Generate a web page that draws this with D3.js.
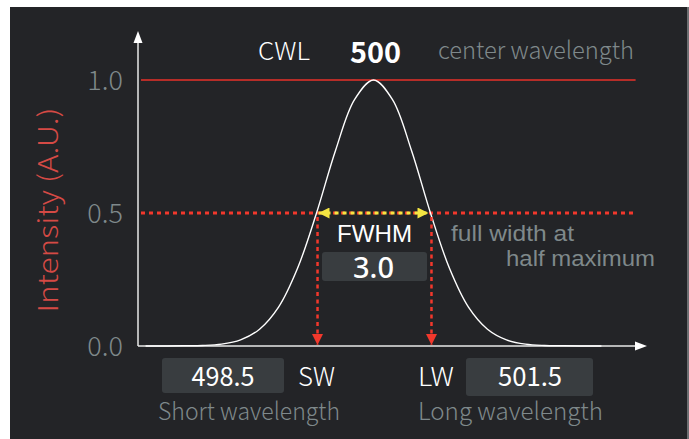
<!DOCTYPE html>
<html>
<head>
<meta charset="utf-8">
<script src="https://cdn.jsdelivr.net/npm/d3@7"></script>
<style>
  html, body { margin: 0; padding: 0; background: #ffffff; }
  svg { display: block; }
  text { font-family: "Noto Sans CJK KR", "Noto Sans", sans-serif; }
</style>
</head>
<body>
<svg id="chart"></svg>
<script>
// spectrum (wavelength in nm, intensity in A.U.)
var wavelengths = [494, 494.5, 495, 495.5, 496, 496.5, 497, 497.5, 498, 498.5, 499, 499.5, 500,
                   500.5, 501, 501.5, 502, 502.5, 503, 503.5, 504, 504.5, 505, 505.5, 506];
var intensities = [0, 0, 0.001, 0.002, 0.007, 0.023, 0.063, 0.146, 0.292, 0.5, 0.735, 0.926, 1.0,
                   0.926, 0.735, 0.5, 0.292, 0.146, 0.063, 0.023, 0.007, 0.002, 0.001, 0, 0];
var yTicks = [0, 0.5, 1.0];
var centerWl = 500;
var shortWl = 498.5;
var longWl = 501.5;
var fwhm = 3.0;
var halfMax = 0.5;
var xDomain = [493.8, 507.2];
var guideEnd = 506.9;

var W = 689, H = 439;
var svg = d3.select('#chart').attr('width', W).attr('height', H);

// dark panel
svg.append('rect').attr('x', 10).attr('y', 7).attr('width', 677).attr('height', 432).attr('fill', '#232427');
svg.append('rect').attr('x', 687).attr('y', 7).attr('width', 2).attr('height', 432).attr('fill', '#6d6f72');

var x = d3.scaleLinear().domain(xDomain).range([138, 647]);
var y = d3.scaleLinear().domain([0, 1]).range([346, 80]);

var defs = svg.append('defs');
function marker(id, color) {
    defs.append('marker')
        .attr('id', id)
        .attr('viewBox', '0 0 10 10')
        .attr('refX', 10).attr('refY', 5)
        .attr('markerUnits', 'userSpaceOnUse')
        .attr('markerWidth', 12).attr('markerHeight', 11)
        .attr('orient', 'auto-start-reverse')
        .append('path').attr('d', 'M0,0 L10,5 L0,10 Z').attr('fill', color);
}
marker('arrRed', '#f2382c');
marker('arrYel', '#f4e542');

// axes lines + arrows
svg.append('line').attr('x1', x(xDomain[0])).attr('x2', x(xDomain[1]) - 10)
    .attr('y1', y(0)).attr('y2', y(0)).attr('stroke', '#e8e8e8').attr('stroke-width', 1.5);
svg.append('path')
    .attr('d', 'M' + (x(xDomain[1]) - 12) + ',' + (y(0) - 4.5) + ' L' + x(xDomain[1]) + ',' + y(0) + ' L' + (x(xDomain[1]) - 12) + ',' + (y(0) + 4.5) + 'Z')
    .attr('fill', '#ffffff');
svg.append('line').attr('x1', x(xDomain[0])).attr('x2', x(xDomain[0]))
    .attr('y1', y(0)).attr('y2', 42).attr('stroke', '#e8e8e8').attr('stroke-width', 1.5);
svg.append('path')
    .attr('d', 'M' + (x(xDomain[0]) - 4.5) + ',43 L' + x(xDomain[0]) + ',31 L' + (x(xDomain[0]) + 4.5) + ',43Z')
    .attr('fill', '#ffffff');

// y tick labels
var yAxis = svg.append('g')
    .attr('transform', 'translate(' + x(xDomain[0]) + ',0)')
    .call(d3.axisLeft(y).tickValues(yTicks).tickSize(0).tickPadding(15).tickFormat(d3.format('.1f')));
yAxis.select('.domain').remove();
yAxis.selectAll('text')
    .attr('font-family', '"Noto Sans CJK KR", sans-serif')
    .attr('font-weight', 300)
    .attr('font-size', 27)
    .attr('fill', '#7f898b')
    .attr('dy', '0.35em');

// y axis title
svg.append('text')
    .attr('transform', 'translate(58,210) rotate(-90)')
    .attr('text-anchor', 'middle')
    .attr('font-size', 27).attr('font-weight', 300)
    .attr('fill', '#d54a45')
    .attr('textLength', 205).attr('lengthAdjust', 'spacingAndGlyphs')
    .text('Intensity (A.U.)');

// max line
svg.append('line').attr('x1', x(xDomain[0]) + 3).attr('x2', x(guideEnd))
    .attr('y1', y(1)).attr('y2', y(1)).attr('stroke', '#e8302a').attr('stroke-width', 1.5);

// half max dotted line
svg.append('line').attr('x1', x(xDomain[0]) + 3).attr('x2', x(guideEnd))
    .attr('y1', y(halfMax)).attr('y2', y(halfMax))
    .attr('stroke', '#f2382c').attr('stroke-width', 3).attr('stroke-dasharray', '4,4');

// spectrum curve
var pts = wavelengths.map(function (d, i) { return [d, intensities[i]]; });
var line = d3.line()
    .x(function (d) { return x(d[0]); })
    .y(function (d) { return y(d[1]); })
    .curve(d3.curveCatmullRom);
svg.append('path').datum(pts).attr('d', line)
    .attr('fill', 'none').attr('stroke', '#ffffff').attr('stroke-width', 1.4);

// fwhm yellow arrow
svg.append('line').attr('x1', x(shortWl) + 2).attr('x2', x(longWl) - 2)
    .attr('y1', y(halfMax)).attr('y2', y(halfMax))
    .attr('stroke', '#f4e542').attr('stroke-width', 3).attr('stroke-dasharray', '4,4')
    .attr('marker-start', 'url(#arrYel)').attr('marker-end', 'url(#arrYel)');

// vertical drops
[shortWl, longWl].forEach(function (wl) {
    svg.append('line').attr('x1', x(wl) + 1).attr('x2', x(wl) + 1)
        .attr('y1', y(halfMax) + 4).attr('y2', y(0) - 1)
        .attr('stroke', '#f2382c').attr('stroke-width', 2.5).attr('stroke-dasharray', '4,3.5')
        .attr('marker-end', 'url(#arrRed)');
});

// labels
function label(txt, xp, yp, size, color, weight, len, anchor, family) {
    var t = svg.append('text').attr('x', xp).attr('y', yp)
        .attr('font-size', size).attr('fill', color).attr('font-weight', weight || 300)
        .attr('text-anchor', anchor || 'start').text(txt);
    if (len) t.attr('textLength', len).attr('lengthAdjust', 'spacingAndGlyphs');
    if (family) t.style('font-family', family);
    return t;
}
function box(x0, y0, w, h) {
    svg.append('rect').attr('x', x0).attr('y', y0).attr('width', w).attr('height', h)
        .attr('rx', 3).attr('fill', '#393d40');
}

var tight = '"Liberation Sans", Arial, sans-serif';

label('CWL', 258, 60, 24, '#ffffff', 300, 52);
label(d3.format('d')(centerWl), 350, 63, 29, '#ffffff', 700, 51);
label('center wavelength', 438, 59, 24, '#7f898b', 300, 196);

label('FWHM', 337, 242, 24, '#ffffff', 400, 75, 'start', tight);
box(322, 252, 105, 29);
label(d3.format('.1f')(fwhm), x(centerWl), 278, 29, '#ffffff', 500, 41, 'middle', '"Noto Sans", sans-serif');
label('full width at', 451, 241, 22, '#7f898b', 400, 123, 'start', tight);
label('half maximum', 506, 266, 22, '#7f898b', 400, 149, 'start', tight);

box(162, 358, 122, 35);
label(d3.format('.1f')(shortWl), 223, 386, 26, '#ffffff', 400, 63, 'middle');
label('SW', 298, 386, 26, '#ffffff', 300, 37);
label('LW', 418, 386, 26, '#ffffff', 300, 36);
box(466, 358, 127, 38);
label(d3.format('.1f')(longWl), 530, 386, 26, '#ffffff', 400, 64, 'middle');
label('Short wavelength', 158, 420, 24, '#7f898b', 300, 182);
label('Long wavelength', 418, 420, 24, '#7f898b', 300, 185);
</script>
</body>
</html>
